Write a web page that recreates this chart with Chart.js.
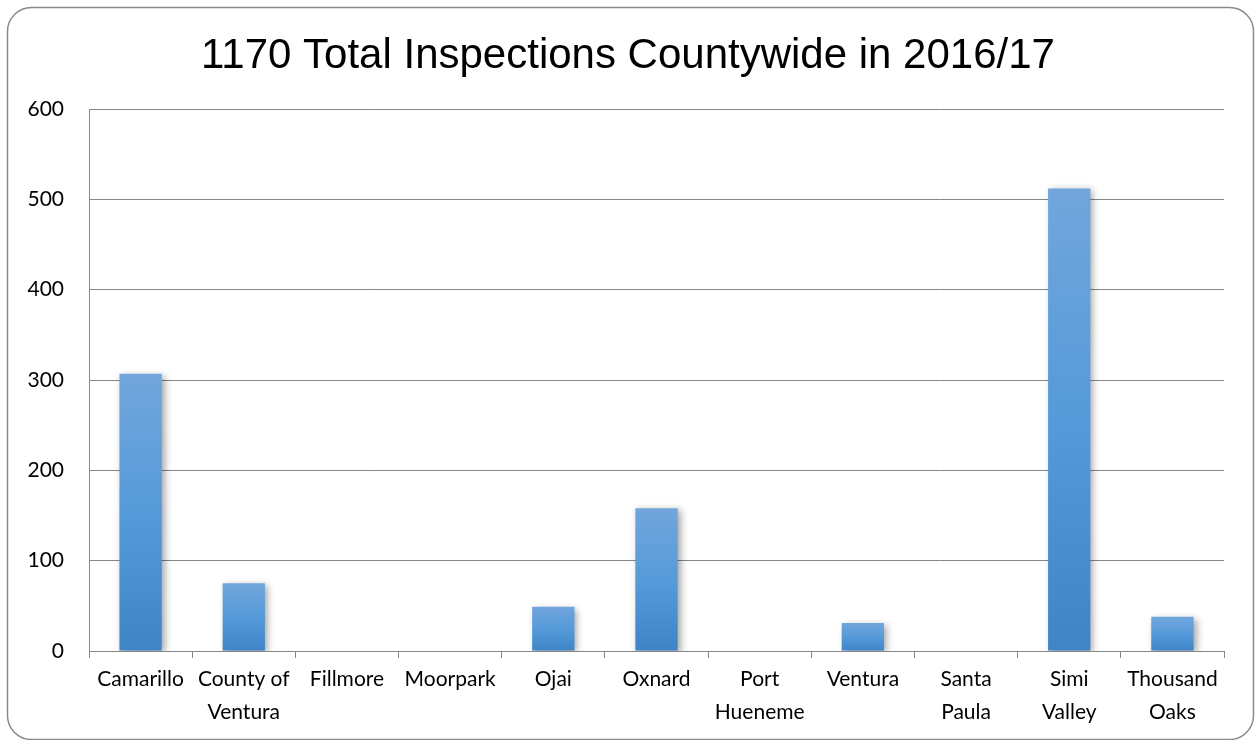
<!DOCTYPE html>
<html>
<head>
<meta charset="utf-8">
<title>Inspections 2016/17</title>
<script src="https://cdn.jsdelivr.net/npm/chart.js@4/dist/chart.umd.min.js"></script>
<style>
  html, body { margin: 0; padding: 0; background: #fff; }
  #wrap { width: 1255px; height: 740px; position: relative; }
</style>
</head>
<body>
<div id="wrap"><canvas id="inspChart"></canvas></div>
<script>
var cities = [
  "Camarillo", ["County of", "Ventura"], "Fillmore", "Moorpark", "Ojai", "Oxnard",
  ["Port", "Hueneme"], "Ventura", ["Santa", "Paula"], ["Simi", "Valley"], ["Thousand", "Oaks"]
];
var inspections = [307, 75, 0, 0, 49, 158, 0, 31, 0, 512, 38];
var yTicks = [0, 100, 200, 300, 400, 500, 600];
var chartTitle = "1170 Total Inspections Countywide in 2016/17";

(function () {
  "use strict";

  var gridColor = "#868686";

  // rounded frame + title drawn straight on the canvas
  var framePlugin = {
    id: "frame",
    beforeDraw: function (chart) {
      var ctx = chart.ctx;
      ctx.save();
      ctx.strokeStyle = "#8a8a8a";
      ctx.lineWidth = 1.5;
      ctx.beginPath();
      ctx.roundRect(7.5, 7.5, 1246, 732, 24);
      ctx.stroke();
      ctx.fillStyle = "#000";
      ctx.font = "42px 'Liberation Sans', Arial, sans-serif";
      ctx.textAlign = "center";
      ctx.textBaseline = "alphabetic";
      ctx.fillText(chartTitle, 628, 68);
      ctx.restore();
    }
  };

  // soft drop shadow on the bars
  var shadowPlugin = {
    id: "barShadow",
    beforeDatasetsDraw: function (chart) {
      var ctx = chart.ctx;
      ctx.save();
      ctx.shadowColor = "rgba(0,0,0,0.35)";
      ctx.shadowBlur = 7;
      ctx.shadowOffsetX = 3;
      ctx.shadowOffsetY = 2;
    },
    afterDatasetsDraw: function (chart) {
      chart.ctx.restore();
    }
  };

  function barFill(c) {
    var chart = c.chart;
    if (!chart.chartArea || c.dataIndex === undefined) return "#5a9bd9";
    var y = chart.scales.y;
    var top = y.getPixelForValue(inspections[c.dataIndex]);
    var bottom = y.getPixelForValue(0);
    if (bottom - top < 1) return "#5a9bd9";
    var g = chart.ctx.createLinearGradient(0, top, 0, bottom);
    g.addColorStop(0, "#72a6dc");
    g.addColorStop(0.5, "#559ad9");
    g.addColorStop(1, "#3f85c6");
    return g;
  }

  var el = document.getElementById("inspChart");
  new Chart(el, {
    type: "bar",
    data: {
      labels: cities,
      datasets: [
        {
          data: inspections,
          backgroundColor: barFill,
          borderWidth: 0,
          barPercentage: 0.82,
          categoryPercentage: 0.5
        }
      ]
    },
    options: {
      responsive: true,
      maintainAspectRatio: false,
      animation: false,
      layout: { padding: { top: 109, right: 31, left: 0, bottom: 0 } },
      plugins: {
        legend: { display: false },
        tooltip: { enabled: false }
      },
      scales: {
        x: {
          grid: {
            display: true,
            drawOnChartArea: false,
            drawTicks: true,
            tickLength: 7,
            color: gridColor,
            offset: true
          },
          border: { color: gridColor, width: 1 },
          ticks: {
            color: "#000",
            maxRotation: 0,
            autoSkip: false,
            padding: 5,
            font: { family: "Lato", size: 21, lineHeight: 1.55 }
          },
          afterFit: function (scale) { scale.height = 89; }
        },
        y: {
          min: 0,
          max: 600,
          afterBuildTicks: function (scale) {
            scale.ticks = yTicks.map(function (v) { return { value: v }; });
          },
          grid: { color: gridColor, drawTicks: false },
          border: { color: gridColor, width: 1 },
          ticks: {
            color: "#000",
            padding: 25,
            font: { family: "Lato", size: 21 }
          },
          afterFit: function (scale) { scale.width = 89; }
        }
      }
    },
    plugins: [framePlugin, shadowPlugin]
  });
})();
</script>
</body>
</html>
